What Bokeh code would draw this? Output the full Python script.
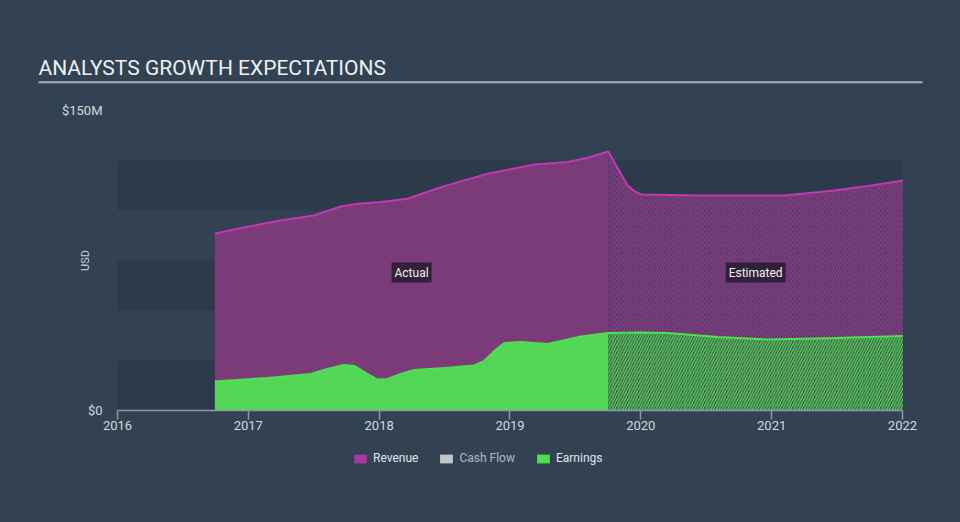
import math
from bokeh.plotting import figure
from bokeh.layouts import column
from bokeh.models import (Range1d, FixedTicker, Label, BoxAnnotation, Legend, LegendItem,
                          ColumnDataSource)
from bokeh.embed import file_html
from bokeh.resources import INLINE

# ---------------- data ----------------
rev_years_actual = [2016.744, 2016.916, 2017.247, 2017.502, 2017.706, 2017.834, 2018.012, 2018.217,
                    2018.471, 2018.829, 2019.185, 2019.441, 2019.594, 2019.751]
rev_actual = [88.4, 90.9, 95.0, 97.5, 102.0, 103.4, 104.2, 105.9, 111.7, 118.4, 123.0, 124.2, 126.4, 129.5]
rev_years_est = [2019.751, 2019.797, 2019.848, 2019.900, 2019.950, 2020.002, 2020.461, 2021.096,
                 2021.478, 2021.736, 2022.004]
rev_est = [129.5, 124.2, 118.4, 112.5, 109.7, 108.0, 107.5, 107.5, 110.0, 112.2, 115.0]

earn_years_actual = [2016.744, 2017.145, 2017.477, 2017.604, 2017.731, 2017.810, 2017.910, 2017.987,
                     2018.063, 2018.165, 2018.267, 2018.497, 2018.726, 2018.800, 2018.880, 2018.956,
                     2019.083, 2019.288, 2019.543, 2019.751]
earn_actual = [14.5, 16.3, 18.3, 20.8, 22.8, 22.3, 18.3, 15.5, 15.8, 18.3, 20.3, 21.2, 22.5, 24.7,
               29.7, 33.7, 34.2, 33.3, 37.0, 38.7]
earn_years_est = [2019.751, 2020.000, 2020.206, 2020.589, 2020.971, 2021.480, 2022.004]
earn_est = [38.7, 39.0, 38.7, 36.7, 35.5, 36.2, 37.2]

x_ticks = [2016, 2017, 2018, 2019, 2020, 2021, 2022]
y_ticks = [0, 150]
y_tick_labels = ["$0", "$150M"]
series_names = ["Revenue", "Cash Flow", "Earnings"]
title_text = "ANALYSTS GROWTH EXPECTATIONS"

# ---------------- layout / style ----------------
W = 960
H_MAIN, H_LEG = 445, 77
PX_PER_YEAR = 130.83           # horizontal scale of the plot area
PLOT_LEFT_PX = 117             # where 2016 sits
PLOT_BOTTOM_PX = 410           # where $0 sits
TICK_LEN = 9
FRAME_BOTTOM_PX = PLOT_BOTTOM_PX + TICK_LEN
PX_PER_M = 2.0

def xd(px):                    # pixel -> data x (for decorations only)
    return 2016 + (px - PLOT_LEFT_PX) / PX_PER_YEAR

def yd(py):
    return (PLOT_BOTTOM_PX - py) / PX_PER_M

BG = "#334252"
BAND = "#2d3a49"
AXIS = "#8e98a2"
FONT = "Roboto"
REV_FILL = "#7b3a78"
REV_LINE = "#c238b6"
EARN_FILL = "#53d655"
EARN_LINE = "#4fe050"
TXT = "#d4d9de"

p = figure(width=W, height=H_MAIN, output_backend="svg", toolbar_location=None,
           x_range=Range1d(xd(0), xd(W)), y_range=Range1d(yd(FRAME_BOTTOM_PX), yd(0)),
           y_axis_location=None,
           min_border_left=0, min_border_right=0, min_border_top=0,
           min_border_bottom=H_MAIN - FRAME_BOTTOM_PX)
p.background_fill_color = BG
p.border_fill_color = None
p.outline_line_color = None
p.grid.visible = False
p.styles = {"background-color": BG}

# bands (plot area 2016..2022, 0..125M)
for lo, hi in [(0, 25), (50, 75), (100, 125)]:
    p.add_layout(BoxAnnotation(left=x_ticks[0], right=x_ticks[-1], bottom=lo, top=hi,
                               fill_color=BAND, fill_alpha=1.0, line_color=None, level="underlay"))

# revenue areas
p.varea(x=rev_years_actual, y1=[0] * len(rev_actual), y2=rev_actual, fill_color=REV_FILL)
p.varea(x=rev_years_est, y1=[0] * len(rev_est), y2=rev_est, fill_color="#45385a",
        hatch_pattern="/", hatch_color="#8e3e8b", hatch_weight=1.5, hatch_scale=5.5)
# earnings areas
p.varea(x=earn_years_actual, y1=[0] * len(earn_actual), y2=earn_actual, fill_color=EARN_FILL)
p.varea(x=earn_years_est, y1=[0] * len(earn_est), y2=earn_est, fill_color="#3a4e4c",
        hatch_pattern="/", hatch_color="#57cc58", hatch_weight=1.5, hatch_scale=5.5)

p.line(x=rev_years_actual + rev_years_est[1:], y=rev_actual + rev_est[1:], line_color=REV_LINE, line_width=2)
p.line(x=earn_years_actual + earn_years_est[1:], y=earn_actual + earn_est[1:], line_color=EARN_LINE, line_width=2)

# baseline of the x axis at $0
p.segment(x0=[x_ticks[0]], x1=[x_ticks[-1]], y0=[0], y1=[0], line_color=AXIS, line_width=1.5)

# x axis: ticks point up from the frame edge to the $0 baseline
xa = p.xaxis[0]
xa.ticker = FixedTicker(ticks=x_ticks)
xa.bounds = (x_ticks[0], x_ticks[-1])
xa.axis_line_color = None
xa.major_tick_line_color = AXIS
xa.major_tick_line_width = 1.5
xa.major_tick_out = 0
xa.major_tick_in = TICK_LEN
xa.minor_tick_line_color = None
xa.major_label_standoff = 1
xa.major_label_text_font = FONT
xa.major_label_text_font_size = "13px"
xa.major_label_text_color = TXT

# y tick labels
for v, t in zip(y_ticks, y_tick_labels):
    p.add_layout(Label(x=xd(PLOT_LEFT_PX - 15), y=v, text=t, text_font=FONT, text_font_size="13px",
                       text_color=TXT, text_align="right", text_baseline="middle"))

# title and underline
p.add_layout(Label(x=xd(38), y=yd(67.5), text=title_text,
                   text_font=FONT, text_font_size="21px", text_color="#eef0f2",
                   text_baseline="alphabetic", text_align="left"))
p.line(x=[xd(38), xd(922)], y=[yd(81.7), yd(81.7)], line_color="#a9b1b9", line_width=2)

# USD
p.add_layout(Label(x=xd(85), y=yd(260), text="USD", angle=math.pi / 2,
                   text_font=FONT, text_font_size="11px", text_color="#c9cfd5",
                   text_align="center", text_baseline="middle"))

# Actual / Estimated
mid_actual = (rev_years_actual[0] + rev_years_actual[-1]) / 2
mid_est = (rev_years_est[0] + rev_years_est[-1]) / 2
for xm, t in [(mid_actual, "Actual"), (mid_est, "Estimated")]:
    p.add_layout(Label(x=xm, y=yd(272), text=t, text_font=FONT, text_font_size="12px",
                       text_color="#f2f2f2", text_align="center", text_baseline="middle",
                       background_fill_color="#221a2a", background_fill_alpha=0.8, padding=3))

# ---------------- legend strip ----------------
lg = figure(width=W, height=H_LEG, output_backend="svg", toolbar_location=None,
            x_range=Range1d(0, W), y_range=Range1d(0, H_LEG),
            x_axis_location=None, y_axis_location=None,
            min_border_left=0, min_border_right=0, min_border_top=0, min_border_bottom=0)
lg.background_fill_color = BG
lg.border_fill_color = None
lg.outline_line_color = None
lg.grid.visible = False
lg.styles = {"background-color": BG}

nan = float("nan")
def proxy():   # one invisible (NaN) row so the legend can draw a swatch
    return ColumnDataSource(dict(x=[nan], y1=[nan], y2=[nan]))
r_rev = lg.varea(x="x", y1="y1", y2="y2", source=proxy(), fill_color="#a8369f")
r_cf = lg.varea(x="x", y1="y1", y2="y2", source=proxy(), fill_color="#ffffff")
r_earn = lg.varea(x="x", y1="y1", y2="y2", source=proxy(), fill_color="#4fe050")
r_cf.muted = True
legend = Legend(items=[LegendItem(label=series_names[0], renderers=[r_rev]),
                       LegendItem(label=series_names[1], renderers=[r_cf]),
                       LegendItem(label=series_names[2], renderers=[r_earn])],
                orientation="horizontal", location=(352, 57), click_policy="mute",
                padding=0, margin=0, spacing=20, glyph_width=16, glyph_height=11,
                label_standoff=5, label_height=11,
                label_text_font=FONT, label_text_font_size="12px", label_text_color="#e2e6ea",
                label_text_font_style="normal",
                background_fill_alpha=0, border_line_color=None,
                inactive_fill_color=BG, inactive_fill_alpha=0.3)
lg.add_layout(legend, "center")

layout = column(p, lg, spacing=0, styles={"background-color": BG})

html = file_html(layout, INLINE)
css = "<style>html, body { background-color: %s !important; }</style>" % BG
html = html.replace("</head>", css + "</head>", 1)
open("out.html", "w").write(html)
